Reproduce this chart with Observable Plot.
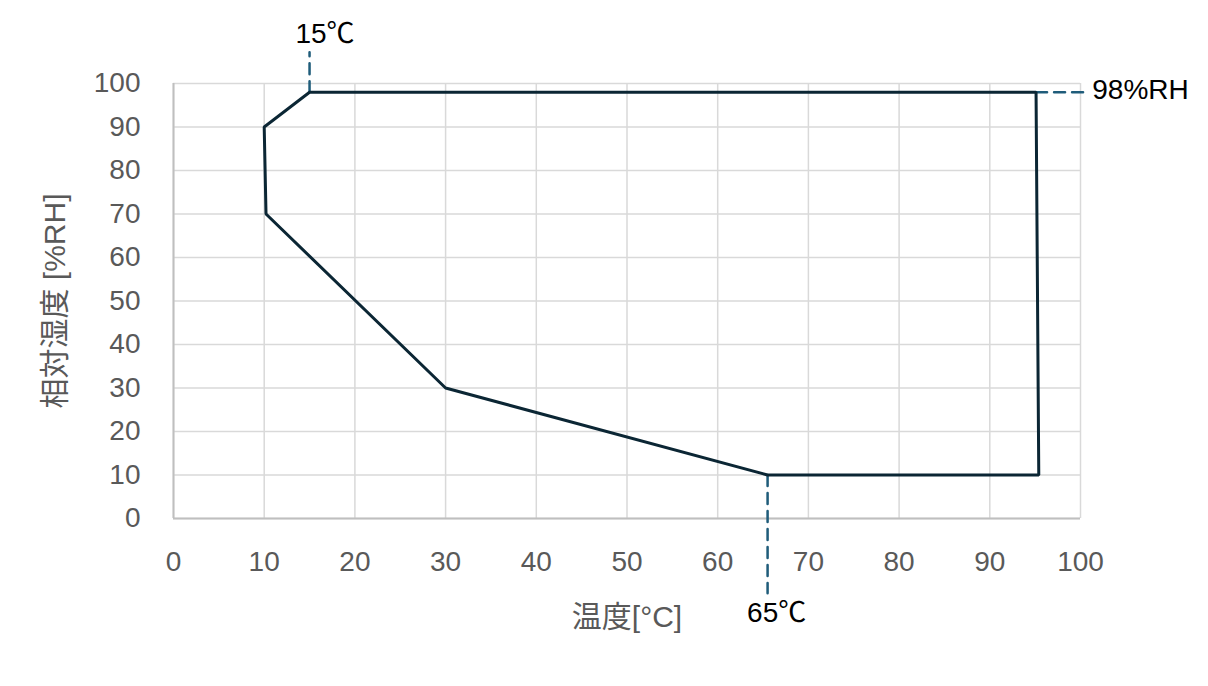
<!DOCTYPE html>
<html>
<head>
<meta charset="utf-8">
<script src="https://cdn.jsdelivr.net/npm/d3@7"></script>
<script src="https://cdn.jsdelivr.net/npm/@observablehq/plot@0.6"></script>
<style>
  html, body { margin: 0; padding: 0; background: #fff; }
  #chart { width: 1208px; height: 686px; }
  svg { font-family: "Liberation Sans", "Noto Sans CJK JP", sans-serif; }
</style>
</head>
<body>
<div id="chart"></div>
<script>
// Operating range polygon (temperature °C, relative humidity %RH)
const tempC = [15, 10, 10.2, 30, 65.5, 95.4, 95.1, 15];
const rhPct = [98, 90, 70, 30, 10, 10, 98, 98];

// Dashed guide lines
const guideId = ["t15", "t15", "rh98", "rh98", "t65", "t65"];
const guideX = [15, 15, 95.1, 100.8, 65.5, 65.5];
const guideY = [98, 107.2, 98, 98, 10, -17.2];

// Annotation labels
const noteText = ["15℃", "65℃"];
const noteX = [16.7, 66.5];
const noteY = [111.3, -21.8];
const rhText = ["98%RH"];
const rhX = [101.3];
const rhY = [98.6];

// Axis ticks
const xTicks = [0, 10, 20, 30, 40, 50, 60, 70, 80, 90, 100];
const yTicks = [0, 10, 20, 30, 40, 50, 60, 70, 80, 90, 100];

const poly = tempC.map((t, i) => ({t, rh: rhPct[i]}));
const guides = guideX.map((x, i) => ({id: guideId[i], x, y: guideY[i]}));
const notes = noteText.map((s, i) => ({s, x: noteX[i], y: noteY[i]}));
const rhNotes = rhText.map((s, i) => ({s, x: rhX[i], y: rhY[i]}));

const chart = Plot.plot({
  width: 1208,
  height: 686,
  marginLeft: 173,
  marginRight: 128,
  marginTop: 83,
  marginBottom: 168,
  style: {fontFamily: "'Liberation Sans', 'Noto Sans CJK JP', sans-serif", background: "#fff"},
  x: {domain: [0, 100]},
  y: {domain: [0, 100]},
  marks: [
    Plot.gridX(xTicks, {stroke: "#d9d9d9", strokeOpacity: 1, strokeWidth: 1.5}),
    Plot.gridY(yTicks, {stroke: "#d9d9d9", strokeOpacity: 1, strokeWidth: 1.5}),
    Plot.ruleX([0], {stroke: "#bfbfbf", strokeWidth: 2}),
    Plot.ruleY([0], {stroke: "#bfbfbf", strokeWidth: 2}),
    Plot.axisX({ticks: xTicks, tickSize: 0, tickPadding: 33, fontSize: 28, color: "#595959", label: null}),
    Plot.axisX({ticks: [], tickSize: 0, fontSize: 30, color: "#595959",
      label: "温度[°C]", labelAnchor: "center", labelArrow: "none", labelOffset: 108}),
    Plot.axisY({ticks: yTicks, tickSize: 0, tickPadding: 33, fontSize: 28, color: "#595959", label: null}),
    Plot.axisY({ticks: [], tickSize: 0, fontSize: 30, color: "#595959",
      label: "相対湿度 [%RH]", labelAnchor: "center", labelArrow: "none", labelOffset: 130}),
    Plot.line(guides, {x: "x", y: "y", z: "id", stroke: "#1f5c7a", strokeWidth: 2.5, strokeDasharray: "11,7"}),
    Plot.line(poly, {x: "t", y: "rh", stroke: "#0b2634", strokeWidth: 3, strokeLinejoin: "miter"}),
    Plot.text(notes, {x: "x", y: "y", text: "s", fontSize: 28, fill: "#000", textAnchor: "middle"}),
    Plot.text(rhNotes, {x: "x", y: "y", text: "s", fontSize: 28, fill: "#000", textAnchor: "start"})
  ]
});
document.getElementById("chart").appendChild(chart);
</script>
</body>
</html>
